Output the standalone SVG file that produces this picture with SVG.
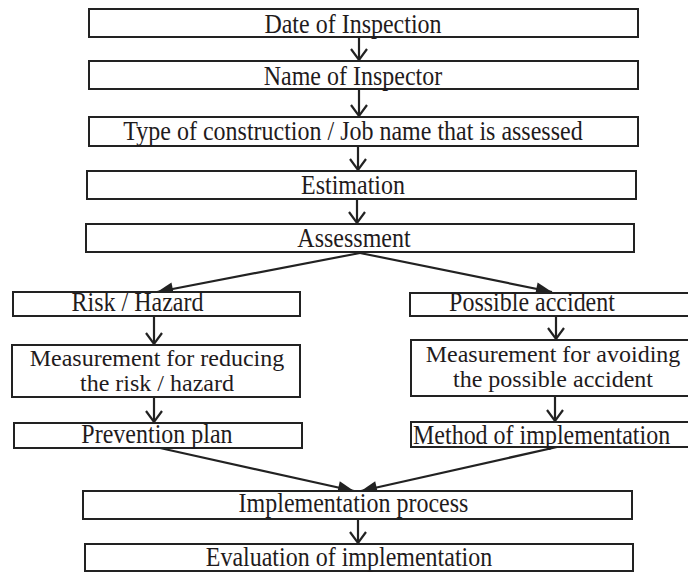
<svg xmlns="http://www.w3.org/2000/svg" width="688" height="572" viewBox="0 0 688 572">
<style>
.box{fill:#fff;stroke:#222;stroke-width:2}
.t{font-family:"Liberation Serif","Times New Roman",serif;font-size:24px;fill:#1f1b1c}
.c{text-anchor:middle}
.ln{stroke:#222;stroke-width:2.2;fill:none}
</style>
<defs>
<marker id="open" markerUnits="userSpaceOnUse" markerWidth="16" markerHeight="22" viewBox="-14 -11 16 22" refX="0" refY="0" orient="auto">
<path d="M-11,-8 L0,0 L-11,8" fill="none" stroke="#222" stroke-width="2.2"/>
</marker>
<marker id="fill" markerUnits="userSpaceOnUse" markerWidth="18" markerHeight="16" viewBox="-17 -8 18 16" refX="0" refY="0" orient="auto">
<path d="M-16,-6.5 L0,0 L-16,6.5 Z" fill="#222"/>
</marker>
</defs>
<rect width="688" height="572" fill="#fff"/>
<g id="connectors">
<line class="ln" x1="359" y1="37" x2="359" y2="60" marker-end="url(#open)"/>
<line class="ln" x1="359" y1="89" x2="359" y2="116" marker-end="url(#open)"/>
<line class="ln" x1="358" y1="146" x2="358" y2="170" marker-end="url(#open)"/>
<line class="ln" x1="357" y1="199" x2="357" y2="223" marker-end="url(#open)"/>
<line class="ln" x1="360" y1="253" x2="157" y2="292" marker-end="url(#fill)"/>
<line class="ln" x1="360" y1="253" x2="552" y2="292" marker-end="url(#fill)"/>
<line class="ln" x1="154" y1="316" x2="154" y2="344" marker-end="url(#open)"/>
<line class="ln" x1="154" y1="397" x2="154" y2="422" marker-end="url(#open)"/>
<line class="ln" x1="556" y1="316" x2="556" y2="339" marker-end="url(#open)"/>
<line class="ln" x1="555" y1="396" x2="555" y2="421" marker-end="url(#open)"/>
<line class="ln" x1="160" y1="448" x2="354" y2="491" marker-end="url(#fill)"/>
<line class="ln" x1="557" y1="447" x2="361" y2="491" marker-end="url(#fill)"/>
<line class="ln" x1="358" y1="519" x2="358" y2="543" marker-end="url(#open)"/>
</g>
<g id="date"><rect class="box" x="89" y="9" width="549" height="28"/><text class="t c" x="353" y="0" transform="translate(0,33) scale(1,1.12)">Date of Inspection</text></g>
<g id="inspector"><rect class="box" x="89" y="61" width="549" height="28"/><text class="t c" x="353" y="0" transform="translate(0,85) scale(1,1.12)">Name of Inspector</text></g>
<g id="type"><rect class="box" x="89" y="117" width="549" height="29"/><text class="t c" x="353" y="0" transform="translate(0,140) scale(1,1.12)">Type of construction / Job name that is assessed</text></g>
<g id="estimation"><rect class="box" x="87" y="171" width="549" height="28"/><text class="t c" x="353" y="0" transform="translate(0,194) scale(1,1.12)">Estimation</text></g>
<g id="assessment"><rect class="box" x="86" y="224" width="548" height="28"/><text class="t c" x="354" y="0" transform="translate(0,247) scale(1,1.12)">Assessment</text></g>
<g id="risk"><rect class="box" x="13" y="292" width="287" height="24"/><text class="t c" x="137.5" y="0" transform="translate(0,311) scale(1,1.12)">Risk / Hazard</text></g>
<g id="measure-reduce"><rect class="box" x="12" y="345" width="288" height="52"/><text class="t c" x="157" y="366">Measurement for reducing</text><text class="t c" x="157" y="391">the risk / hazard</text></g>
<g id="prevention"><rect class="box" x="14" y="423" width="288" height="25"/><text class="t c" x="157" y="0" transform="translate(0,443) scale(1,1.12)">Prevention plan</text></g>
<g id="possible"><rect class="box" x="410" y="293" width="290" height="23"/><text class="t c" x="532" y="0" transform="translate(0,311) scale(1,1.12)">Possible accident</text></g>
<g id="measure-avoid"><rect class="box" x="411" y="340" width="290" height="56"/><text class="t c" x="553" y="362">Measurement for avoiding</text><text class="t c" x="553" y="387">the possible accident</text></g>
<g id="method"><rect class="box" x="411" y="422" width="290" height="25"/><text class="t" x="413" y="0" transform="translate(0,444) scale(1,1.12)">Method of implementation</text></g>
<g id="implementation"><rect class="box" x="83" y="491" width="549" height="28"/><text class="t c" x="353.5" y="0" transform="translate(0,512) scale(1,1.12)">Implementation process</text></g>
<g id="evaluation"><rect class="box" x="85" y="544" width="548" height="27"/><text class="t c" x="349" y="0" transform="translate(0,566) scale(1,1.12)">Evaluation of implementation</text></g>
</svg>
